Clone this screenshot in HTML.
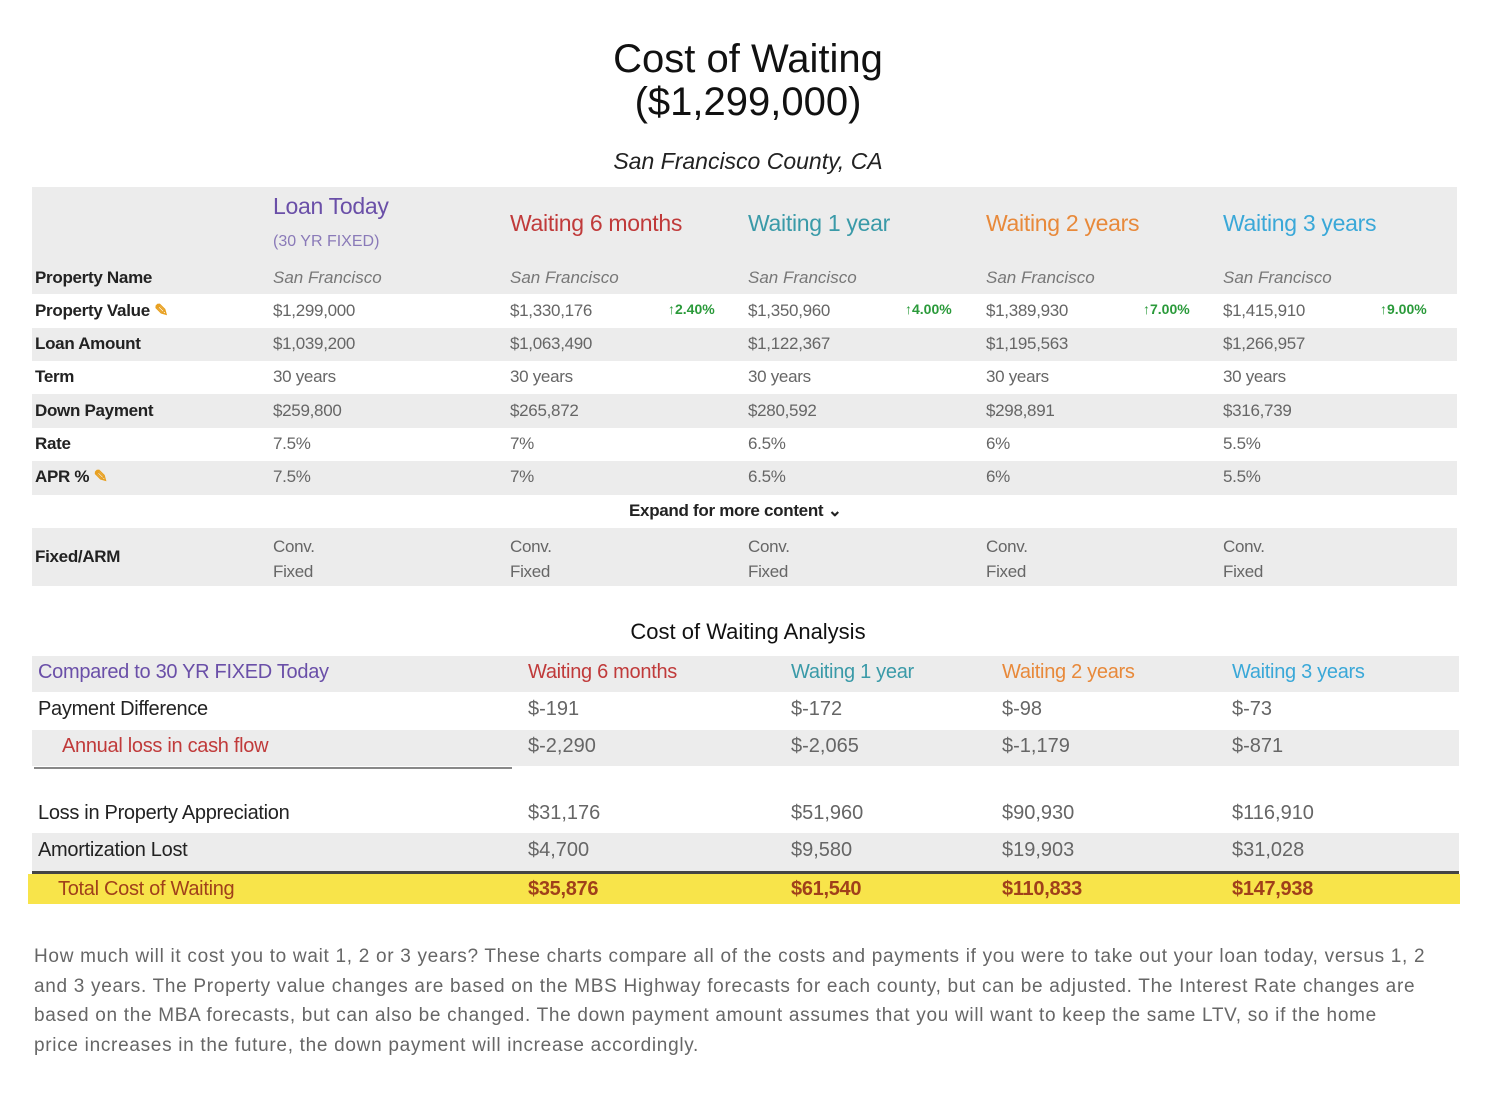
<!DOCTYPE html>
<html><head><meta charset="utf-8"><style>
body{margin:0;width:1496px;height:1096px;background:#fff;font-family:"Liberation Sans",sans-serif;position:relative;overflow:hidden}
div{position:absolute;white-space:nowrap}
.b{background:#ececec}
.l{font-weight:bold;font-size:17px;color:#222;letter-spacing:-0.3px}
.v{font-size:17px;color:#666;letter-spacing:-0.3px}
.i{font-style:italic;font-size:17px;color:#777}
.p{font-size:14px;color:#2a9a3a;font-weight:bold}
.h{font-size:23px;letter-spacing:-0.3px}
.a{font-size:20px;color:#222;letter-spacing:-0.3px}
.av{font-size:20px;color:#666}
</style></head><body>
<div style="left:0;width:1496px;top:38px;text-align:center;font-size:40px;color:#111;line-height:43px">Cost of Waiting<br>($1,299,000)</div>
<div style="left:0;width:1496px;top:148px;text-align:center;font-size:23px;font-style:italic;color:#222">San Francisco County, CA</div>

<div class="b" style="left:32px;top:187px;width:1425px;height:107px"></div>
<div class="b" style="left:32px;top:328px;width:1425px;height:33px"></div>
<div class="b" style="left:32px;top:394px;width:1425px;height:34px"></div>
<div class="b" style="left:32px;top:461px;width:1425px;height:34px"></div>
<div class="b" style="left:32px;top:528px;width:1425px;height:58px"></div>

<div class="h" style="left:273px;top:193px;color:#6a4fa8">Loan Today</div>
<div style="left:273px;top:233px;font-size:16px;color:#8a7ab8">(30 YR FIXED)</div>
<div class="h" style="left:510px;top:210px;color:#c03a3a">Waiting 6 months</div>
<div class="h" style="left:748px;top:210px;color:#3a9aa8">Waiting 1 year</div>
<div class="h" style="left:986px;top:210px;color:#e8893a">Waiting 2 years</div>
<div class="h" style="left:1223px;top:210px;color:#3aa8d8">Waiting 3 years</div>

<div class="l" style="left:35px;top:268px">Property Name</div>
<div class="i" style="left:273px;top:268px">San Francisco</div><div class="i" style="left:510px;top:268px">San Francisco</div><div class="i" style="left:748px;top:268px">San Francisco</div><div class="i" style="left:986px;top:268px">San Francisco</div><div class="i" style="left:1223px;top:268px">San Francisco</div>

<div class="l" style="left:35px;top:301px">Property Value <span style="color:#e8a020">✎</span></div>
<div class="v" style="left:273px;top:301px">$1,299,000</div>
<div class="v" style="left:510px;top:301px">$1,330,176</div><div class="p" style="left:668px;top:301px">↑2.40%</div>
<div class="v" style="left:748px;top:301px">$1,350,960</div><div class="p" style="left:905px;top:301px">↑4.00%</div>
<div class="v" style="left:986px;top:301px">$1,389,930</div><div class="p" style="left:1143px;top:301px">↑7.00%</div>
<div class="v" style="left:1223px;top:301px">$1,415,910</div><div class="p" style="left:1380px;top:301px">↑9.00%</div>

<div class="l" style="left:35px;top:334px">Loan Amount</div>
<div class="v" style="left:273px;top:334px">$1,039,200</div><div class="v" style="left:510px;top:334px">$1,063,490</div><div class="v" style="left:748px;top:334px">$1,122,367</div><div class="v" style="left:986px;top:334px">$1,195,563</div><div class="v" style="left:1223px;top:334px">$1,266,957</div>

<div class="l" style="left:35px;top:367px">Term</div>
<div class="v" style="left:273px;top:367px">30 years</div><div class="v" style="left:510px;top:367px">30 years</div><div class="v" style="left:748px;top:367px">30 years</div><div class="v" style="left:986px;top:367px">30 years</div><div class="v" style="left:1223px;top:367px">30 years</div>

<div class="l" style="left:35px;top:401px">Down Payment</div>
<div class="v" style="left:273px;top:401px">$259,800</div><div class="v" style="left:510px;top:401px">$265,872</div><div class="v" style="left:748px;top:401px">$280,592</div><div class="v" style="left:986px;top:401px">$298,891</div><div class="v" style="left:1223px;top:401px">$316,739</div>

<div class="l" style="left:35px;top:434px">Rate</div>
<div class="v" style="left:273px;top:434px">7.5%</div><div class="v" style="left:510px;top:434px">7%</div><div class="v" style="left:748px;top:434px">6.5%</div><div class="v" style="left:986px;top:434px">6%</div><div class="v" style="left:1223px;top:434px">5.5%</div>

<div class="l" style="left:35px;top:467px">APR % <span style="color:#e8a020">✎</span></div>
<div class="v" style="left:273px;top:467px">7.5%</div><div class="v" style="left:510px;top:467px">7%</div><div class="v" style="left:748px;top:467px">6.5%</div><div class="v" style="left:986px;top:467px">6%</div><div class="v" style="left:1223px;top:467px">5.5%</div>

<div class="l" style="left:629px;top:501px">Expand for more content ⌄</div>

<div class="l" style="left:35px;top:547px">Fixed/ARM</div>
<div class="v" style="left:273px;top:534px;line-height:25px">Conv.<br>Fixed</div><div class="v" style="left:510px;top:534px;line-height:25px">Conv.<br>Fixed</div><div class="v" style="left:748px;top:534px;line-height:25px">Conv.<br>Fixed</div><div class="v" style="left:986px;top:534px;line-height:25px">Conv.<br>Fixed</div><div class="v" style="left:1223px;top:534px;line-height:25px">Conv.<br>Fixed</div>

<div style="left:0;width:1496px;top:619px;text-align:center;font-size:22px;color:#111">Cost of Waiting Analysis</div>

<div class="b" style="left:32px;top:656px;width:1427px;height:36px"></div>
<div class="b" style="left:32px;top:730px;width:1427px;height:36px"></div>
<div style="left:34px;top:767px;width:478px;height:2px;background:#888"></div>
<div class="b" style="left:32px;top:833px;width:1427px;height:38px"></div>
<div style="left:32px;top:871px;width:1427px;height:3px;background:#444"></div>
<div style="left:28px;top:874px;width:1432px;height:30px;background:#f8e44a"></div>

<div class="a" style="left:38px;top:661px;color:#6a4fa8">Compared to 30 YR FIXED Today</div>
<div class="a" style="left:528px;top:661px;color:#c03a3a">Waiting 6 months</div>
<div class="a" style="left:791px;top:661px;color:#3a9aa8">Waiting 1 year</div>
<div class="a" style="left:1002px;top:661px;color:#e8893a">Waiting 2 years</div>
<div class="a" style="left:1232px;top:661px;color:#3aa8d8">Waiting 3 years</div>

<div class="a" style="left:38px;top:698px">Payment Difference</div>
<div class="av" style="left:528px;top:698px">$-191</div><div class="av" style="left:791px;top:698px">$-172</div><div class="av" style="left:1002px;top:698px">$-98</div><div class="av" style="left:1232px;top:698px">$-73</div>

<div class="a" style="left:62px;top:735px;color:#c03a3a">Annual loss in cash flow</div>
<div class="av" style="left:528px;top:735px">$-2,290</div><div class="av" style="left:791px;top:735px">$-2,065</div><div class="av" style="left:1002px;top:735px">$-1,179</div><div class="av" style="left:1232px;top:735px">$-871</div>

<div class="a" style="left:38px;top:802px">Loss in Property Appreciation</div>
<div class="av" style="left:528px;top:802px">$31,176</div><div class="av" style="left:791px;top:802px">$51,960</div><div class="av" style="left:1002px;top:802px">$90,930</div><div class="av" style="left:1232px;top:802px">$116,910</div>

<div class="a" style="left:38px;top:839px">Amortization Lost</div>
<div class="av" style="left:528px;top:839px">$4,700</div><div class="av" style="left:791px;top:839px">$9,580</div><div class="av" style="left:1002px;top:839px">$19,903</div><div class="av" style="left:1232px;top:839px">$31,028</div>

<div class="a" style="left:58px;top:878px;color:#a0401a">Total Cost of Waiting</div>
<div class="a" style="left:528px;top:878px;color:#a0401a;font-weight:bold">$35,876</div><div class="a" style="left:791px;top:878px;color:#a0401a;font-weight:bold">$61,540</div><div class="a" style="left:1002px;top:878px;color:#a0401a;font-weight:bold">$110,833</div><div class="a" style="left:1232px;top:878px;color:#a0401a;font-weight:bold">$147,938</div>

<div style="left:34px;top:942px;font-size:19px;line-height:29.5px;color:#666;letter-spacing:0.7px">How much will it cost you to wait 1, 2 or 3 years? These charts compare all of the costs and payments if you were to take out your loan today, versus 1, 2<br>and 3 years. The Property value changes are based on the MBS Highway forecasts for each county, but can be adjusted. The Interest Rate changes are<br>based on the MBA forecasts, but can also be changed. The down payment amount assumes that you will want to keep the same LTV, so if the home<br>price increases in the future, the down payment will increase accordingly.</div>
</body></html>
